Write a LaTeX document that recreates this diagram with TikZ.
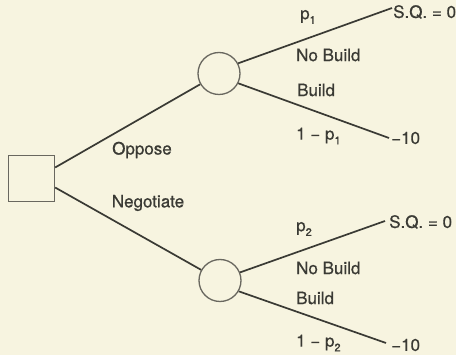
\documentclass[tikz,border=0pt]{standalone}
\usepackage{fontspec}
\setmainfont{TeX Gyre Heros}[FakeBold=0.7]
\definecolor{paper}{RGB}{247,244,224}
\definecolor{ink}{RGB}{58,58,52}
\definecolor{shapeink}{RGB}{105,103,95}
% probability with a lowered index
\newcommand\prob[1]{p\raisebox{-0.28em}{\fontsize{11}{11}\selectfont #1}}
\begin{document}
\begin{tikzpicture}[x=1pt,y=-1pt,
  lbl/.style={font=\fontsize{17}{20}\selectfont, text=ink, inner sep=0pt, anchor=west},
  mid/.style={font=\fontsize{17}{20}\selectfont, text=ink, inner sep=0pt},
  branch/.style={draw=ink, line width=1.7pt},
  chance/.style={circle, draw=shapeink, line width=1.3pt, minimum size=42pt, inner sep=0pt},
  decision/.style={rectangle, draw=shapeink, line width=1.3pt, minimum size=46pt, inner sep=0pt}]
\fill[paper] (0,0) rectangle (456,355);
\useasboundingbox (0,0) rectangle (456,355);

% decision and chance nodes
\node[decision] (d) at (31.5,178.5) {};
\node[chance] (c1) at (219,73.5) {};
\node[chance] (c2) at (220,280.5) {};

% end points of the outcome branches
\coordinate (t1) at (392,8);
\coordinate (b1) at (389,138);
\coordinate (t2) at (385,221);
\coordinate (b2) at (386,343);

% outcomes
\node[lbl] (sq1) at (393,12) {S.Q. = 0};
\node[lbl] (m1) at (391,138) {−10};
\node[lbl] (sq2) at (389,222) {S.Q. = 0};
\node[lbl] (m2) at (391,345) {−10};

% branches
\draw[branch] ([yshift=11pt]d.east) -- (c1);
\draw[branch] ([yshift=-9pt]d.east) -- (c2);
\draw[branch] (c1.28) -- (t1);
\draw[branch] (c1.-27) -- (b1);
\draw[branch] (c2.22) -- (t2);
\draw[branch] (c2.-30) -- (b2);

% branch labels
\node[mid] (opp) at (142,150) {Oppose};
\node[mid] (neg) at (148,203) {Negotiate};

\node[lbl] (p1) at (300,17) {\prob{1}};
\node[lbl] (nb1) at (296,55) {No Build};
\node[lbl] (bd1) at (297,90) {Build};
\node[lbl] (q1) at (296,136) {1 − \prob{1}};

\node[lbl] (p2) at (296,229) {\prob{2}};
\node[lbl] (nb2) at (296,268) {No Build};
\node[lbl] (bd2) at (296,298) {Build};
\node[lbl] (q2) at (296,343) {1 − \prob{2}};
\end{tikzpicture}
\end{document}
